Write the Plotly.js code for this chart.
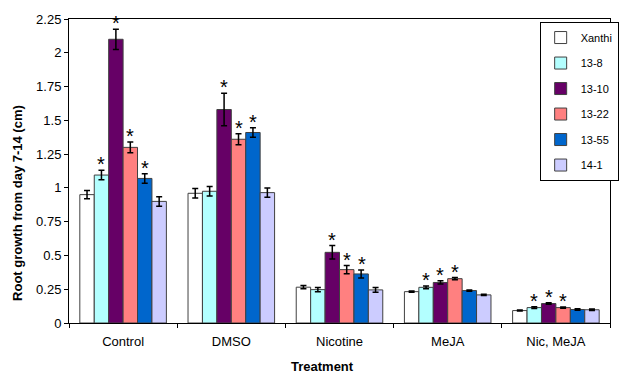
<!DOCTYPE html>
<html>
<head>
<meta charset="utf-8">
<script src="https://cdn.plot.ly/plotly-3.0.1.min.js"></script>
<style>html,body{margin:0;padding:0;background:#fff;}#chart{width:619px;height:375px;}</style>
</head>
<body>
<div id="chart"></div>
<script>
// ---- data ----
const treatments = ["Control", "DMSO", "Nicotine", "MeJA", "Nic, MeJA"];
const lines = ["Xanthi", "13-8", "13-10", "13-22", "13-55", "14-1"];
const colors = ["#FFFFFF", "#B3FFFF", "#660066", "#FF8080", "#0066CC", "#CCCCFF"];

const xanthi = [0.95, 0.96, 0.265, 0.232, 0.092];
const l13_8  = [1.095, 0.975, 0.247, 0.264, 0.114];
const l13_10 = [2.10, 1.58, 0.523, 0.300, 0.144];
const l13_22 = [1.30, 1.36, 0.395, 0.328, 0.114];
const l13_55 = [1.07, 1.41, 0.363, 0.240, 0.100];
const l14_1  = [0.90, 0.965, 0.245, 0.208, 0.098];

const err_xanthi = [0.03, 0.035, 0.012, 0.005, 0.004];
const err_13_8   = [0.035, 0.035, 0.015, 0.01, 0.006];
const err_13_10  = [0.075, 0.12, 0.05, 0.012, 0.006];
const err_13_22  = [0.04, 0.04, 0.03, 0.008, 0.005];
const err_13_55  = [0.035, 0.035, 0.03, 0.005, 0.005];
const err_14_1   = [0.035, 0.035, 0.018, 0.005, 0.005];

// significance marks (1 = asterisk)
const sig_xanthi = [0, 0, 0, 0, 0];
const sig_13_8   = [1, 0, 0, 1, 1];
const sig_13_10  = [1, 1, 1, 1, 1];
const sig_13_22  = [1, 1, 1, 1, 1];
const sig_13_55  = [1, 1, 1, 0, 0];
const sig_14_1   = [0, 0, 0, 0, 0];

const yTicks = [0, 0.25, 0.5, 0.75, 1, 1.25, 1.5, 1.75, 2, 2.25];

const values = [xanthi, l13_8, l13_10, l13_22, l13_55, l14_1];
const errors = [err_xanthi, err_13_8, err_13_10, err_13_22, err_13_55, err_14_1];
const sigs = [sig_xanthi, sig_13_8, sig_13_10, sig_13_22, sig_13_55, sig_14_1];

// ---- layout constants ----
const W = 619, H = 375;
const margin = {l: 69, r: 0, t: 19, b: 52};
const bargap = 0.2;
const plotW = W - margin.l - margin.r;
const catW = plotW / treatments.length;
const barW = catW * (1 - bargap) / lines.length;

const font = "Arial, 'Liberation Sans', sans-serif";

const traces = lines.map((name, i) => ({
  type: "bar",
  name: name,
  x: treatments,
  y: values[i],
  legendgroup: "g" + i,
  marker: {color: colors[i], line: {color: "#404040", width: 1}},
  error_y: {type: "data", array: errors[i], visible: true, color: "#000", thickness: 1.5, width: 3},
  hoverinfo: "x+y+name"
}));

const annotations = [];
lines.forEach((name, i) => {
  treatments.forEach((t, j) => {
    if (sigs[i][j]) {
      annotations.push({
        x: t, y: values[i][j] + errors[i][j], xref: "x", yref: "y",
        text: "*", showarrow: false,
        xshift: (i - (lines.length - 1) / 2) * barW,
        yanchor: "bottom", yshift: -7,
        font: {family: font, size: 20, color: "#000"}
      });
    }
  });
});
annotations.push({
  text: "<b>Treatment</b>", xref: "paper", yref: "paper",
  x: 0.468, y: 0, yanchor: "middle", yshift: -43, showarrow: false,
  font: {family: font, size: 13, color: "#000"}
});
annotations.push({
  text: "<b>Root growth from day 7-14 (cm)</b>", xref: "paper", yref: "paper",
  x: 0, xanchor: "center", xshift: -51, y: 0.395, textangle: -90, showarrow: false,
  font: {family: font, size: 13, color: "#000"}
});

const layout = {
  width: W, height: H,
  margin: margin,
  paper_bgcolor: "#fff", plot_bgcolor: "#fff",
  barmode: "group", bargap: bargap, bargroupgap: 0,
  font: {family: font, size: 13, color: "#000"},
  showlegend: true,
  legend: {
    x: 0.87, y: 0.99, xanchor: "left", yanchor: "top",
    bgcolor: "#fff", bordercolor: "#000", borderwidth: 1,
    font: {family: font, size: 11, color: "#000"},
    traceorder: "grouped", tracegroupgap: 6.5, itemwidth: 30
  },
  xaxis: {
    type: "category", showline: true, linecolor: "#000", linewidth: 1, mirror: true,
    ticks: "outside", tickson: "boundaries", ticklen: 4, tickcolor: "#000",
    ticklabelstandoff: 6,
    showgrid: false, tickfont: {family: font, size: 13}
  },
  yaxis: {
    range: [0, 2.25], tickvals: yTicks, showline: true, linecolor: "#000", linewidth: 1, mirror: true,
    ticks: "outside", ticklen: 4, tickcolor: "#000", showgrid: false, zeroline: false,
    tickfont: {family: font, size: 13}
  },
  annotations: annotations
};

Plotly.newPlot("chart", traces, layout, {displayModeBar: false, staticPlot: true});
</script>
</body>
</html>
